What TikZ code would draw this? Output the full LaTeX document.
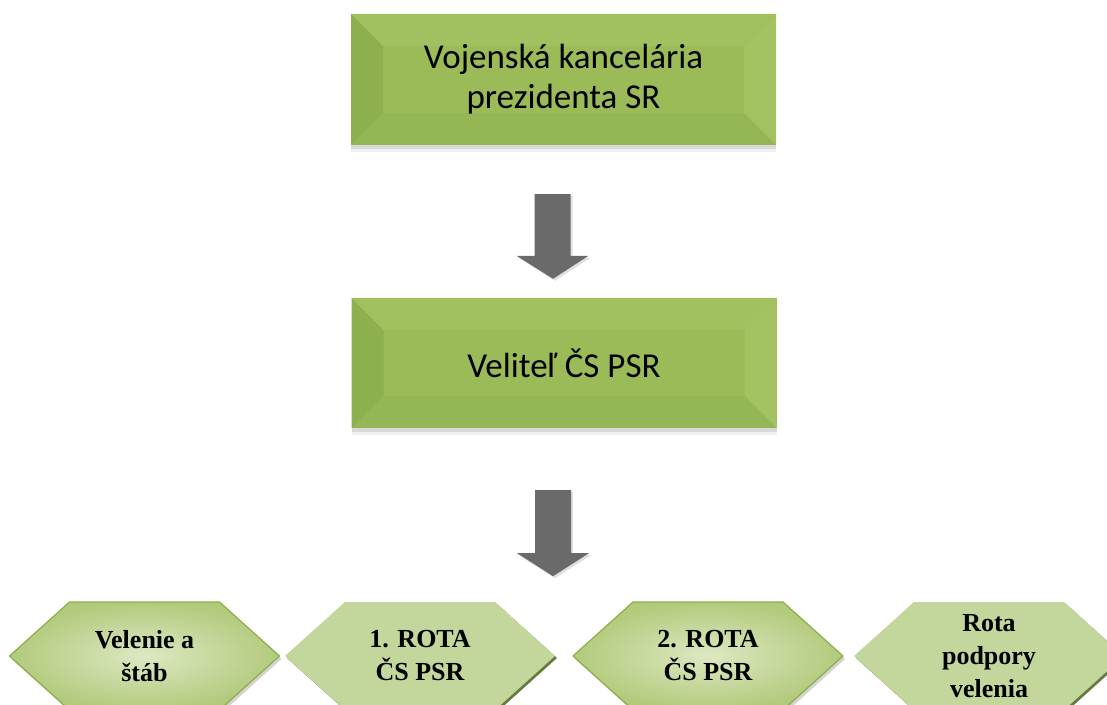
\documentclass[tikz,border=0pt]{standalone}
\usepackage{fontspec}
\usepackage{tikz}
\usetikzlibrary{calc,shapes.symbols,shadows}
\usetikzlibrary{positioning}

\newfontfamily\boxfont{Carlito}
\newfontfamily\hexfont{Liberation Serif}

\definecolor{boxgreen}{HTML}{9BBB59}
\definecolor{boxleft}{HTML}{8EAF4F}
\definecolor{boxtop}{HTML}{A1C05F}
\definecolor{boxright}{HTML}{A3C262}
\definecolor{boxbottom}{HTML}{95B654}
\definecolor{flatgreen}{HTML}{C3D69B}
\definecolor{hexedge}{HTML}{8DAF48}
\definecolor{hexinner}{HTML}{DDE8C2}
\definecolor{hexouter}{HTML}{B2CA7C}
\definecolor{hexdark}{HTML}{566B2C}
\definecolor{arrowgrey}{HTML}{6A6A6A}

% block arrow from #1 (top of shaft) down to #2 (tip)
\newcommand\blockarrow[2]{%
  \fill[arrowbody] let \p1=(#1), \p2=(#2) in
    (\x1-18pt,\y1) -- (\x1+18pt,\y1) -- (\x1+18pt,\y2+23pt) -- (\x1+36pt,\y2+23pt)
    -- (\x2,\y2) -- (\x1-36pt,\y2+23pt) -- (\x1-18pt,\y2+23pt) -- cycle;}

\begin{document}
\begin{tikzpicture}[line cap=round,line join=round,x=1pt,y=1pt]
  \tikzset{
  % bevelled green box of the two upper levels
  bevelbox/.style={rectangle, minimum width=425pt, minimum height=131pt,
    fill=boxgreen, align=center, inner sep=0pt,
    font=\boxfont\fontsize{35}{40}\selectfont,
    drop shadow={opacity=0.12, shadow xshift=0pt, shadow yshift=-7pt},
    drop shadow={opacity=0.2, shadow xshift=0pt, shadow yshift=-4pt},
    path picture={
      \fill[boxleft] (path picture bounding box.south west) -- (path picture bounding box.north west)
        -- ([shift={(32pt,-32pt)}]path picture bounding box.north west)
        -- ([shift={(32pt,32pt)}]path picture bounding box.south west) -- cycle;
      \fill[boxtop] (path picture bounding box.north west) -- (path picture bounding box.north east)
        -- ([shift={(-32pt,-32pt)}]path picture bounding box.north east)
        -- ([shift={(32pt,-32pt)}]path picture bounding box.north west) -- cycle;
      \fill[boxright] (path picture bounding box.north east) -- (path picture bounding box.south east)
        -- ([shift={(-32pt,32pt)}]path picture bounding box.south east)
        -- ([shift={(-32pt,-32pt)}]path picture bounding box.north east) -- cycle;
      \fill[boxbottom] (path picture bounding box.south east) -- (path picture bounding box.south west)
        -- ([shift={(32pt,32pt)}]path picture bounding box.south west)
        -- ([shift={(-32pt,32pt)}]path picture bounding box.south east) -- cycle;
    }},
  % hexagon of the lowest level
  hexbox/.style={signal, signal to=east and west, signal pointer angle=84,
    minimum width=270pt, minimum height=108pt, inner sep=0pt, align=center,
    font=\hexfont\bfseries\fontsize{26}{33}\selectfont},
  hexshaded/.style={hexbox, draw=hexedge, line width=1.2pt,
    inner color=hexinner, outer color=hexouter,
    drop shadow={opacity=0.35, shadow xshift=2pt, shadow yshift=-3pt}},
  hexplain/.style={hexbox, fill=flatgreen,
    drop shadow={fill=hexdark, opacity=0.9, shadow xshift=2pt, shadow yshift=-2pt}},
  arrowbody/.style={fill=arrowgrey, drop shadow={opacity=0.25, shadow xshift=2pt, shadow yshift=-2pt}},
}

\useasboundingbox (0,0) rectangle (1107,704);
\clip (0,0) rectangle (1107,704);

\node[bevelbox] (kanc) at (563.5,624.5) {Vojenská kancelária\\prezidenta SR};
\node[bevelbox, minimum height=130pt] (velitel) at (564,341) {Veliteľ ČS PSR};

\node[hexshaded] (stab) at (144.5,48) {Velenie a\\štáb};
\node[hexplain] (rota1) at (420,48) {1. ROTA\\ČS PSR};
\node[hexshaded] (rota2) at (708,48) {2. ROTA\\ČS PSR};
\node[hexplain] (podpora) at (989,48) {Rota\\podpory\\velenia};

\coordinate (a1top) at ($(kanc.south)+(-11,-49)$);
\coordinate (a1tip) at ($(velitel.north)+(-11,19)$);
\coordinate (a2top) at ($(velitel.south)+(-11,-62)$);
\coordinate (a2tip) at ($(velitel.south)+(-11,-148)$);
\blockarrow{a1top}{a1tip}
\blockarrow{a2top}{a2tip}
\end{tikzpicture}
\end{document}
